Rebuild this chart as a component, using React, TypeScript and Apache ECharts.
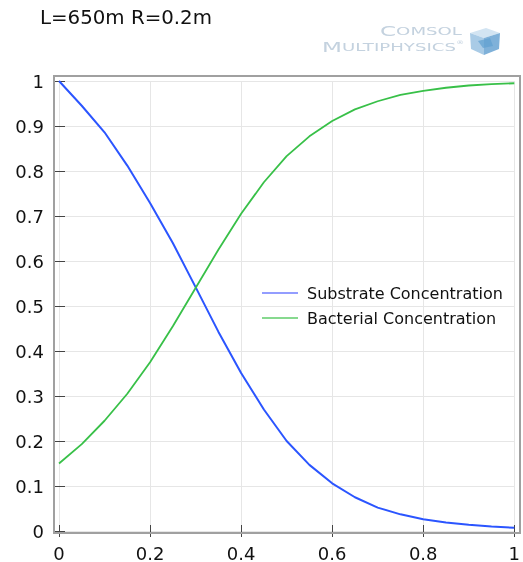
import React, { useEffect, useRef } from "react";
import * as echarts from "echarts";

const xValues = [0, 0.05, 0.1, 0.15, 0.2, 0.25, 0.3, 0.35, 0.4, 0.45, 0.5, 0.55, 0.6, 0.65, 0.7, 0.75, 0.8, 0.85, 0.9, 0.95, 1.0];
const substrate = [1.0, 0.945, 0.886, 0.812, 0.729, 0.64, 0.542, 0.443, 0.351, 0.27, 0.2, 0.147, 0.106, 0.075, 0.052, 0.037, 0.026, 0.019, 0.014, 0.01, 0.007];
const bacterial = [0.15, 0.193, 0.245, 0.305, 0.375, 0.455, 0.54, 0.625, 0.705, 0.775, 0.833, 0.877, 0.911, 0.937, 0.955, 0.969, 0.978, 0.985, 0.99, 0.993, 0.995];
const seriesNames = ["Substrate Concentration", "Bacterial Concentration"];
const titleText = "L=650m R=0.2m";

const FONT = "DejaVu Sans";
const LOGO = "#c4d2df";

export default function App() {
  const ref = useRef<HTMLDivElement>(null);
  useEffect(() => {
    if (!ref.current) return;
    const chart = echarts.init(ref.current, undefined, { renderer: "svg" });
    const sData = xValues.map((x, i) => [x, substrate[i]]);
    const bData = xValues.map((x, i) => [x, bacterial[i]]);
    const tickStyle = { show: true, inside: true, length: 6, lineStyle: { color: "#444", width: 1 } };
    const split = { show: true, lineStyle: { color: "#e6e6e6", width: 1 } };
    chart.setOption({
      animation: false,
      title: {
        text: titleText,
        left: 35,
        top: 2,
        textStyle: { fontFamily: FONT, fontSize: 19.8, fontWeight: "normal", color: "#111" },
      },
      grid: { left: 59, right: 5.5, top: 81, bottom: 31, containLabel: false },
      xAxis: [
        {
          type: "value",
          min: 0,
          max: 1,
          interval: 0.2,
          offset: 2,
          axisLine: { show: false },
          axisTick: tickStyle,
          splitLine: split,
          axisLabel: { margin: 11, fontFamily: FONT, fontSize: 18, color: "#111" },
        },
        {
          type: "value",
          position: "top",
          min: 0,
          max: 1,
          interval: 0.2,
          offset: 5,
          axisLine: { show: false },
          axisTick: tickStyle,
          splitLine: { show: false },
          axisLabel: { show: false },
        },
      ],
      yAxis: [
        {
          type: "value",
          min: 0,
          max: 1,
          interval: 0.1,
          offset: 5,
          axisLine: { show: false },
          axisTick: tickStyle,
          splitLine: split,
          axisLabel: {
            margin: 10,
            fontFamily: FONT,
            fontSize: 18,
            color: "#111",
            formatter: (v: number) => String(Math.round(v * 10) / 10),
          },
        },
        {
          type: "value",
          position: "right",
          min: 0,
          max: 1,
          interval: 0.1,
          offset: 2.5,
          axisLine: { show: false },
          axisTick: tickStyle,
          splitLine: { show: false },
          axisLabel: { show: false },
        },
      ],
      legend: {
        orient: "vertical",
        left: 262,
        top: 285,
        padding: 0,
        itemWidth: 36,
        itemHeight: 1.5,
        itemGap: 9,
        icon: "rect",
        textStyle: { fontFamily: FONT, fontSize: 16, color: "#111", lineHeight: 16, padding: [0, 0, 0, 4] },
        data: [
          { name: seriesNames[0], itemStyle: { color: "#6f7cff" } },
          { name: seriesNames[1], itemStyle: { color: "#5fcc6a" } },
        ],
      },
      series: [
        {
          name: seriesNames[0],
          type: "line",
          data: sData,
          showSymbol: false,
          symbol: "none",
          lineStyle: { color: "#2b55ff", width: 2 },
          itemStyle: { color: "#2b55ff" },
        },
        {
          name: seriesNames[1],
          type: "line",
          data: bData,
          showSymbol: false,
          symbol: "none",
          lineStyle: { color: "#38c048", width: 1.8 },
          itemStyle: { color: "#38c048" },
        },
      ],
      graphic: [
        {
          type: "rect",
          shape: { x: 54, y: 76, width: 466, height: 457 },
          style: { fill: "none", stroke: "#a0a0a0", lineWidth: 2 },
          z: 10,
          silent: true,
        },
        {
          type: "text",
          x: 380,
          y: 24,
          scaleX: 1.65,
          style: {
            text: "{a|C}{b|OMSOL}",
            rich: {
              a: { fontFamily: FONT, fontSize: 14, fill: LOGO },
              b: { fontFamily: FONT, fontSize: 11, fill: LOGO },
            },
          },
        },
        {
          type: "text",
          x: 322,
          y: 40,
          scaleX: 1.65,
          style: {
            text: "{a|M}{b|ULTIPHYSICS}{c|®}",
            rich: {
              a: { fontFamily: FONT, fontSize: 14, fill: LOGO },
              b: { fontFamily: FONT, fontSize: 11, fill: LOGO },
              c: { fontFamily: FONT, fontSize: 5, fill: LOGO, verticalAlign: "top" },
            },
          },
        },
        {
          type: "polygon",
          shape: { points: [[470, 33], [486, 28], [500, 33], [484, 38]] },
          style: { fill: "#d2e4f2", stroke: "none" },
        },
        {
          type: "polygon",
          shape: { points: [[470, 33], [484, 38], [484, 55], [471, 49]] },
          style: { fill: "#a9cbe6", stroke: "none" },
        },
        {
          type: "polygon",
          shape: { points: [[484, 38], [500, 33], [499, 49], [484, 55]] },
          style: { fill: "#7fb1d9", stroke: "none" },
        },
        {
          type: "polygon",
          shape: { points: [[478, 41], [490, 38], [493, 46], [483, 48]] },
          style: { fill: "#5f9fd0", stroke: "none", opacity: 0.7 },
        },
      ],
    });
    return () => chart.dispose();
  }, []);
  return (
    <div
      ref={ref}
      style={{ position: "fixed", left: 0, top: 0, width: 523, height: 562 }}
    />
  );
}
